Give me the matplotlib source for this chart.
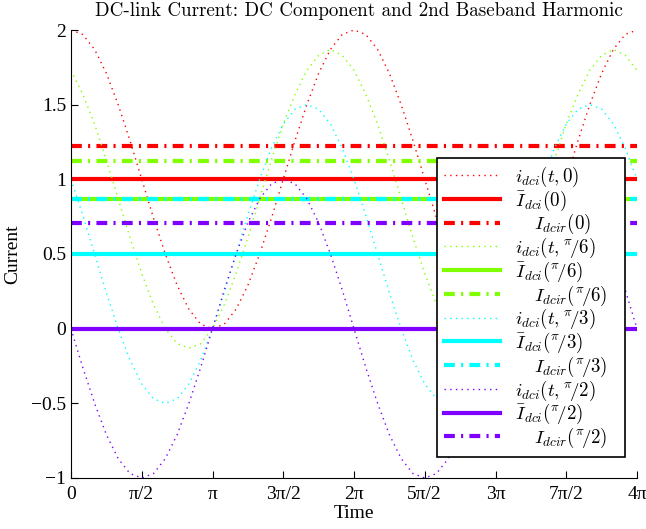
import numpy as np
import matplotlib
matplotlib.use("Agg")
import matplotlib.pyplot as plt

plt.rcParams['mathtext.fontset'] = 'cm'

# sample times 0 .. 4pi (step pi/12)
t = np.linspace(0, 4 * np.pi, 49)

# i_dci(t, phi)
i_red = [2.00, 1.97, 1.87, 1.71, 1.50, 1.26, 1.00, 0.74, 0.50, 0.29, 0.13, 0.03,
         0.00, 0.03, 0.13, 0.29, 0.50, 0.74, 1.00, 1.26, 1.50, 1.71, 1.87, 1.97,
         2.00, 1.97, 1.87, 1.71, 1.50, 1.26, 1.00, 0.74, 0.50, 0.29, 0.13, 0.03,
         0.00, 0.03, 0.13, 0.29, 0.50, 0.74, 1.00, 1.26, 1.50, 1.71, 1.87, 1.97, 2.00]
i_green = [1.73, 1.57, 1.37, 1.13, 0.87, 0.61, 0.37, 0.16, 0.00, -0.10, -0.13, -0.10,
           0.00, 0.16, 0.37, 0.61, 0.87, 1.13, 1.37, 1.57, 1.73, 1.83, 1.87, 1.83,
           1.73, 1.57, 1.37, 1.13, 0.87, 0.61, 0.37, 0.16, 0.00, -0.10, -0.13, -0.10,
           0.00, 0.16, 0.37, 0.61, 0.87, 1.13, 1.37, 1.57, 1.73, 1.83, 1.87, 1.83, 1.73]
i_cyan = [1.00, 0.76, 0.50, 0.24, 0.00, -0.21, -0.37, -0.47, -0.50, -0.47, -0.37, -0.21,
          0.00, 0.24, 0.50, 0.76, 1.00, 1.21, 1.37, 1.47, 1.50, 1.47, 1.37, 1.21,
          1.00, 0.76, 0.50, 0.24, 0.00, -0.21, -0.37, -0.47, -0.50, -0.47, -0.37, -0.21,
          0.00, 0.24, 0.50, 0.76, 1.00, 1.21, 1.37, 1.47, 1.50, 1.47, 1.37, 1.21, 1.00]
i_purple = [0.00, -0.26, -0.50, -0.71, -0.87, -0.97, -1.00, -0.97, -0.87, -0.71, -0.50, -0.26,
            0.00, 0.26, 0.50, 0.71, 0.87, 0.97, 1.00, 0.97, 0.87, 0.71, 0.50, 0.26,
            0.00, -0.26, -0.50, -0.71, -0.87, -0.97, -1.00, -0.97, -0.87, -0.71, -0.50, -0.26,
            0.00, 0.26, 0.50, 0.71, 0.87, 0.97, 1.00, 0.97, 0.87, 0.71, 0.50, 0.26, 0.00]

i_mean = [1.00, 0.87, 0.50, 0.00]   # DC component
i_rms = [1.22, 1.12, 0.87, 0.71]    # I_dcir
phases = ['0', r'{}^{\pi}\!/6', r'{}^{\pi}\!/3', r'{}^{\pi}\!/2']
colors = ['#ff0000', '#80ff00', '#00ffff', '#8000ff']

xticks = [0, np.pi / 2, np.pi, 3 * np.pi / 2, 2 * np.pi, 5 * np.pi / 2, 3 * np.pi, 7 * np.pi / 2, 4 * np.pi]
xtick_labels = ['0', 'π/2', 'π', '3π/2', '2π', '5π/2', '3π', '7π/2', '4π']
yticks = [-1, -0.5, 0, 0.5, 1, 1.5, 2]
ytick_labels = ['\u22121', '\u22120.5', '0', '0.5', '1', '1.5', '2']

fig = plt.figure(figsize=(6.46, 5.29), dpi=100)
ax = fig.add_axes([71 / 646, 51 / 529, 566 / 646, 448 / 529])

for y, m, r, ph, c in zip([i_red, i_green, i_cyan, i_purple], i_mean, i_rms, phases, colors):
    ax.plot(t, y, color=c, lw=1.0, dashes=(1, 3.1),
            label=r'$i_{dci}(t,%s)$' % ph)
    ax.plot([t[0], t[-1]], [m, m], color=c, lw=3,
            label=r'$\bar{I}_{dci}(%s)$' % ph)
    ax.plot([t[0], t[-1]], [r, r], color=c, lw=3, dashes=(2.6, 1.5, 0.5, 1.5),
            dash_capstyle='butt', label=r'$\quad\, I_{dcir}(%s)$' % ph)

ax.set_xlim(0, 4 * np.pi)
ax.set_ylim(-1, 2)
ax.set_xticks(xticks)
ax.set_xticklabels(xtick_labels, family='Liberation Serif', fontsize=14)
ax.set_yticks(yticks)
ax.set_yticklabels(ytick_labels, family='Liberation Serif', fontsize=14)
ax.tick_params(direction='in', length=5, width=0.8)
ax.tick_params(axis='x', pad=6)
ax.spines['top'].set_visible(False)
ax.spines['right'].set_visible(False)

ax.set_title('DC-link Current: DC Component and 2nd Baseband Harmonic',
             family='cmr10', fontsize=13.7, pad=10, x=0.508)
ax.set_xlabel('Time', family='Liberation Serif', fontsize=14, labelpad=1)
ax.set_ylabel('Current', family='Liberation Serif', fontsize=14, labelpad=7)

leg = ax.legend(loc='upper left',
                bbox_to_anchor=(437 / 646, 1 - 158 / 529, 188 / 646, 0.0),
                bbox_transform=fig.transFigure, borderaxespad=0, mode='expand',
                fontsize=13.6, handlelength=3.0, handletextpad=0.8,
                labelspacing=-0.025, borderpad=0.35, fancybox=False, framealpha=1,
                edgecolor='black')
leg.get_frame().set_linewidth(1.2)

fig.savefig('out.png', dpi=100)
